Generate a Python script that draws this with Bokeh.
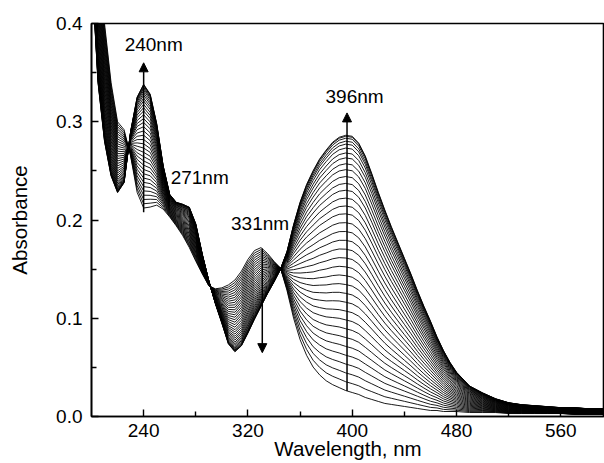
import numpy as np
from bokeh.plotting import figure
from bokeh.models import Range1d, FixedTicker, Arrow, NormalHead, ColumnDataSource, PrintfTickFormatter
from bokeh.embed import file_html
from bokeh.resources import INLINE
from bokeh.core.properties import value

# wavelength grid (nm)
wavelength = [200, 205, 210, 215, 220, 225, 230, 235, 240, 245, 250, 255, 260, 265, 270,
              275, 280, 285, 290, 295, 300, 305, 310, 315, 320, 325, 330, 335, 340, 345,
              350, 355, 360, 365, 370, 375, 380, 385, 390, 395, 400, 405, 410, 415, 420,
              425, 430, 435, 440, 445, 450, 455, 460, 465, 470, 475, 480, 490, 500, 510,
              520, 530, 540, 550, 560, 570, 580, 590, 595]

# first recorded spectrum
first_spectrum = [0.55, 0.47, 0.40, 0.34, 0.30, 0.292, 0.265, 0.228, 0.212, 0.213, 0.215, 0.211, 0.203, 0.194, 0.184,
                  0.172, 0.158, 0.145, 0.133, 0.130, 0.131, 0.134, 0.139, 0.148, 0.160, 0.169, 0.172, 0.166, 0.158, 0.151,
                  0.128, 0.100, 0.078, 0.062, 0.050, 0.042, 0.036, 0.032, 0.029, 0.026, 0.024, 0.022, 0.019, 0.017, 0.015,
                  0.013, 0.012, 0.011, 0.010, 0.009, 0.008, 0.007, 0.006, 0.006, 0.005, 0.005, 0.005, 0.004, 0.004, 0.004,
                  0.003, 0.003, 0.003, 0.003, 0.003, 0.002, 0.002, 0.002, 0.002]

# last recorded spectrum
last_spectrum = [0.46, 0.34, 0.28, 0.245, 0.228, 0.238, 0.29, 0.325, 0.338, 0.328, 0.298, 0.255, 0.226, 0.218, 0.216,
                 0.213, 0.196, 0.165, 0.138, 0.115, 0.095, 0.074, 0.066, 0.072, 0.085, 0.099, 0.112, 0.125, 0.137, 0.150,
                 0.168, 0.195, 0.218, 0.236, 0.250, 0.262, 0.271, 0.279, 0.284, 0.286, 0.285, 0.278, 0.265, 0.247, 0.228,
                 0.210, 0.193, 0.177, 0.161, 0.145, 0.128, 0.112, 0.097, 0.081, 0.067, 0.055, 0.045, 0.031, 0.024, 0.018,
                 0.014, 0.012, 0.011, 0.010, 0.009, 0.009, 0.008, 0.008, 0.008]

abs_396 = [0.026, 0.035, 0.044, 0.053, 0.062, 0.071, 0.080, 0.089, 0.098, 0.107, 0.116, 0.125,
           0.134, 0.143, 0.152, 0.161, 0.170, 0.179, 0.188, 0.197, 0.206, 0.214, 0.222, 0.230,
           0.237, 0.244, 0.251, 0.257, 0.263, 0.268, 0.273, 0.277, 0.280, 0.283, 0.285, 0.286]

x_ticks = [240, 320, 400, 480, 560]
x_minor = [280, 360, 440, 520]
y_ticks = [0.0, 0.1, 0.2, 0.3, 0.4]
y_minor = [0.05, 0.15, 0.25, 0.35]

peak_labels = ["240nm", "271nm", "331nm", "396nm"]
label_x = [247.7, 283.0, 329.3, 401.8]
label_y = [0.379, 0.243, 0.196, 0.326]

arrow_x = [240, 331, 396]
arrow_from = [0.208, 0.171, 0.026]
arrow_to = [0.360, 0.065, 0.309]

FONT = "Liberation Sans"

wl = np.array(wavelength, dtype=float)
a0 = np.array(first_spectrum)
a1 = np.array(last_spectrum)
a0_396 = np.interp(396, wl, a0)
a1_396 = np.interp(396, wl, a1)

xs, ys = [], []
for a in abs_396:
    f = (a - a0_396) / (a1_396 - a0_396)
    xs.append(list(wl))
    ys.append(list(a0 + f * (a1 - a0)))

p = figure(width=604, height=463, x_range=Range1d(200, 593.5), y_range=Range1d(0, 0.4),
           min_border_left=91, min_border_right=0, min_border_top=23, min_border_bottom=47,
           output_backend="svg", toolbar_location=None)
p.grid.visible = False
p.outline_line_color = "black"
p.outline_line_width = 1.6
p.background_fill_color = "white"
p.border_fill_color = "white"

p.multi_line(xs=xs, ys=ys, line_color="black", line_width=0.9)

for ax in (p.xaxis[0], p.yaxis[0]):
    ax.axis_line_width = 1.6
    ax.axis_line_color = "black"
    ax.major_tick_in = 7
    ax.major_tick_out = 0
    ax.minor_tick_in = 5
    ax.minor_tick_out = 0
    ax.major_tick_line_width = 1.4
    ax.minor_tick_line_width = 1.4
    ax.major_label_text_font = FONT
    ax.major_label_text_font_size = "19px"
    ax.major_label_text_color = "black"
    ax.axis_label_text_font = FONT
    ax.axis_label_text_font_size = "20.5px"
    ax.axis_label_text_font_style = "normal"
    ax.axis_label_text_color = "black"

p.xaxis.ticker = FixedTicker(ticks=x_ticks, minor_ticks=x_minor)
p.yaxis.ticker = FixedTicker(ticks=y_ticks, minor_ticks=y_minor)
p.yaxis.formatter = PrintfTickFormatter(format="%.1f")
p.xaxis.axis_label = "Wavelength, nm"
p.yaxis.axis_label = "Absorbance"
p.xaxis.major_label_standoff = 7
p.xaxis.axis_label_standoff = -3
p.yaxis.major_label_standoff = 9
p.yaxis.axis_label_standoff = 22

for x, y0, y1 in zip(arrow_x, arrow_from, arrow_to):
    p.add_layout(Arrow(end=NormalHead(size=9, fill_color="black", line_color="black"),
                       x_start=x, y_start=y0, x_end=x, y_end=y1,
                       line_color="black", line_width=1.5))

src = ColumnDataSource(dict(x=label_x, y=label_y, t=peak_labels))
p.text(x="x", y="y", text="t", source=src, text_font=value(FONT), text_font_size="19px",
       text_align="center", text_baseline="middle", text_color="black")

open("out.html", "w").write(file_html(p, INLINE))
